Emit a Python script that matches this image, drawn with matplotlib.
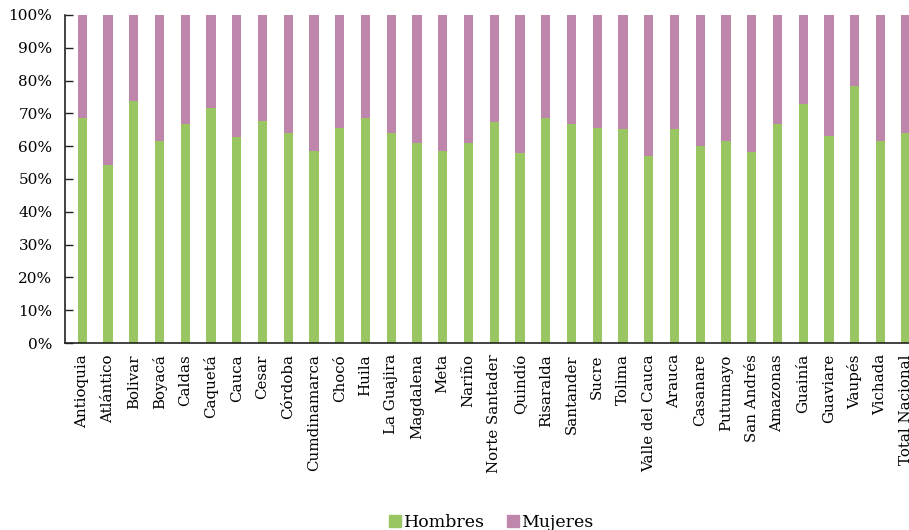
import matplotlib
matplotlib.use('Agg')
import matplotlib.pyplot as plt
import numpy as np
from matplotlib.lines import Line2D

departamentos = ['Antioquia', 'Atlántico', 'Bolivar', 'Boyacá', 'Caldas', 'Caquetá', 'Cauca', 'Cesar',
                 'Córdoba', 'Cumdinamarca', 'Chocó', 'Huila', 'La Guajira', 'Magdalena', 'Meta', 'Nariño',
                 'Norte Santader', 'Quindío', 'Risaralda', 'Santander', 'Sucre', 'Tolima', 'Valle del Cauca',
                 'Arauca', 'Casanare', 'Putumayo', 'San Andrés', 'Amazonas', 'Guainía', 'Guaviare', 'Vaupés',
                 'Vichada', 'Total Nacional']
hombres = [68.6, 54.2, 73.8, 61.6, 66.7, 71.6, 62.8, 67.7, 64.0, 58.5, 65.6, 68.6, 64.0, 61.0, 58.5, 61.0,
           67.4, 58.0, 68.6, 66.7, 65.6, 65.3, 57.1, 65.2, 60.0, 61.6, 58.2, 66.7, 72.8, 63.1, 78.3, 61.6, 64.0]
mujeres = [31.4, 45.8, 26.2, 38.4, 33.3, 28.4, 37.2, 32.3, 36.0, 41.5, 34.4, 31.4, 36.0, 39.0, 41.5, 39.0,
           32.6, 42.0, 31.4, 33.3, 34.4, 34.7, 42.9, 34.8, 40.0, 38.4, 41.8, 33.3, 27.2, 36.9, 21.7, 38.4, 36.0]
y_ticks = [0, 10, 20, 30, 40, 50, 60, 70, 80, 90, 100]

verde = '#99c563'
rosa = '#bf86ac'

plt.rcParams['font.family'] = ['DejaVu Serif']

fig = plt.figure(figsize=(9.09, 5.30), dpi=100)
ax = fig.add_axes([0.0715, 0.3528, 0.9395, 0.619])

x = np.arange(len(departamentos))
ax.bar(x, hombres, width=0.36, color=verde, label='Hombres')
ax.bar(x, mujeres, width=0.36, bottom=hombres, color=rosa, label='Mujeres')

ax.set_xlim(-0.67, 32.5)
ax.set_ylim(0, 100)
ax.set_yticks(y_ticks)
ax.set_yticklabels([f'{t}%' for t in y_ticks], fontsize=11)
ax.tick_params(axis='y', direction='in', length=6, width=1, color='#222222', pad=9)
ax.set_xticks(x)
ax.set_xticklabels(departamentos, rotation=90, fontsize=10.8)
ax.tick_params(axis='x', length=0, pad=8)

for s in ['top', 'right']:
    ax.spines[s].set_visible(False)
for s in ['left', 'bottom']:
    ax.spines[s].set_color('#222222')
    ax.spines[s].set_linewidth(1.2)

# leyenda abajo, cuadrados de color
handles = [Line2D([], [], marker='s', linestyle='', markersize=8, color=verde),
           Line2D([], [], marker='s', linestyle='', markersize=8, color=rosa)]
fig.legend(handles, ['Hombres', 'Mujeres'], loc='lower center', bbox_to_anchor=(0.54, -0.032),
           ncol=2, frameon=False, fontsize=12.5, handletextpad=0.1, columnspacing=1.2,
           handlelength=0.8)

fig.savefig('out.png', dpi=100)
